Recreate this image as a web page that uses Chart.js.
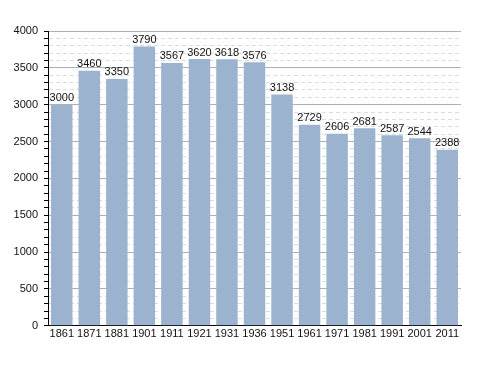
<!DOCTYPE html>
<html>
<head>
<meta charset="utf-8">
<script src="https://cdn.jsdelivr.net/npm/chart.js@4.4.0/dist/chart.umd.min.js"></script>
<style>
  body { margin: 0; background: #fff; }
  #wrap { width: 488px; height: 373px; }
</style>
</head>
<body>
<div id="wrap"><canvas id="pop" width="488" height="373"></canvas></div>
<script>
const years = ["1861", "1871", "1881", "1901", "1911", "1921", "1931", "1936", "1951", "1961", "1971", "1981", "1991", "2001", "2011"];
const population = [3000, 3460, 3350, 3790, 3567, 3620, 3618, 3576, 3138, 2729, 2606, 2681, 2587, 2544, 2388];

// value labels on top of each bar
const barLabels = {
  id: "barLabels",
  afterDatasetsDraw(chart) {
    const ctx = chart.ctx;
    const meta = chart.getDatasetMeta(0);
    ctx.save();
    ctx.font = "11px 'Liberation Sans', Arial, sans-serif";
    ctx.fillStyle = "#111";
    ctx.textAlign = "center";
    ctx.textBaseline = "bottom";
    meta.data.forEach((bar, i) => {
      ctx.fillText(population[i], bar.x, bar.y - 1);
    });
    ctx.restore();
  }
};

const ctx = document.getElementById("pop");
const myChart = new Chart(ctx, {
  type: "bar",
  data: {
    labels: years,
    datasets: [{
      data: population,
      backgroundColor: "#9bb3cf",
      borderWidth: 0,
      barPercentage: 0.78,
      categoryPercentage: 1.0
    }]
  },
  options: {
    responsive: false,
    animation: false,
    layout: { padding: { left: 0, right: 27, top: 31, bottom: 30 } },
    plugins: { legend: { display: false }, tooltip: { enabled: false } },
    scales: {
      x: {
        grid: { display: false, drawTicks: false },
        border: { color: "#000", width: 1 },
        ticks: {
          color: "#111",
          font: { size: 11, family: "'Liberation Sans', Arial, sans-serif" },
          padding: 2,
          maxRotation: 0,
          autoSkip: false
        }
      },
      y: {
        min: 0,
        max: 4000,
        afterFit(scale) { scale.width = 48; },
        ticks: {
          stepSize: 100,
          autoSkip: false,
          color: "#111",
          font: { size: 11, family: "'Liberation Sans', Arial, sans-serif" },
          padding: 6,
          callback: v => (v % 500 === 0 ? v : "")
        },
        grid: {
          color: c => (c.tick && c.tick.value % 500 === 0 ? "#b0b0b0" : "#dcdcdc"),
          tickColor: "#000",
          tickLength: 4
        },
        border: {
          color: "#000",
          width: 1,
          dash: c => (c.tick && c.tick.value % 500 !== 0 ? [4, 3] : [])
        }
      }
    }
  },
  plugins: [barLabels]
});
</script>
</body>
</html>
